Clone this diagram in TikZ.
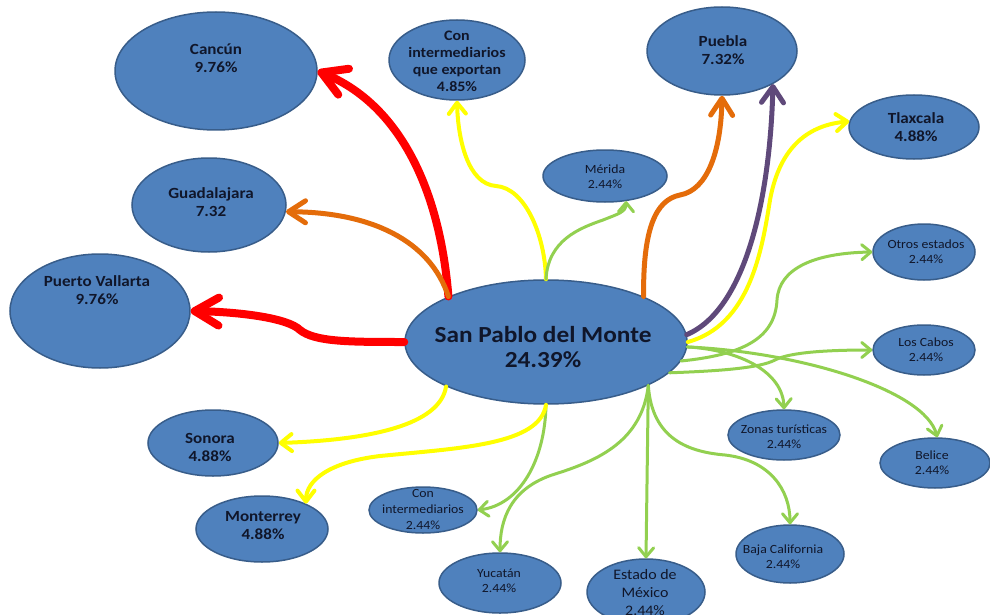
\documentclass[tikz,border=0pt]{standalone}
\usepackage{fontspec}
\setmainfont{Carlito}[FakeStretch=1.1]
\usetikzlibrary{shapes.geometric,arrows.meta}
\definecolor{nodefill}{HTML}{4F81BD}
\definecolor{nodeborder}{HTML}{385D8A}
\definecolor{txt}{HTML}{10162A}
\definecolor{redc}{HTML}{FF0000}
\definecolor{orangec}{HTML}{E46C0A}
\definecolor{purplec}{HTML}{5F497A}
\definecolor{yellowc}{HTML}{FFFF00}
\definecolor{greenc}{HTML}{92D050}
\begin{document}
\begin{tikzpicture}[x=1pt,y=-1pt,
  bub/.style={ellipse, draw=nodeborder, line width=1.5pt, fill=nodefill, inner sep=0pt},
  lbl/.style={text=txt, align=center, inner sep=0pt, font=\bfseries\fontsize{15.5}{18}\selectfont},
  sml/.style={text=txt, align=center, inner sep=0pt, font=\fontsize{12.5}{15}\selectfont},
  redarr/.style={draw=redc, line width=8pt, line cap=round, -{Straight Barb[length=24pt,width=28pt,round]}},
  orgarr/.style={draw=orangec, line width=5pt, line cap=round, -{Straight Barb[length=17pt,width=22pt,round]}},
  purarr/.style={draw=purplec, line width=5pt, line cap=round, -{Straight Barb[length=16pt,width=22pt,round]}},
  yelarr/.style={draw=yellowc, line width=4pt, line cap=round, -{Straight Barb[length=11pt,width=17pt,round]}},
  grnarr/.style={draw=greenc, line width=3pt, line cap=round, -{Straight Barb[length=9pt,width=15pt,round]}}
]
\useasboundingbox (0,0) rectangle (990,615);
\fill[white] (0,0) rectangle (990,615);

% ellipses
\node[bub, minimum width=202pt, minimum height=118pt] (cancun) at (216,71) {};
\node[bub, minimum width=154pt, minimum height=94pt] (guad) at (209,205) {};
\node[bub, minimum width=180pt, minimum height=114pt] (pv) at (100,311) {};
\node[bub, minimum width=136pt, minimum height=80pt] (cie) at (457,60) {};
\node[bub, minimum width=124pt, minimum height=52pt] (mer) at (605,176) {};
\node[bub, minimum width=150pt, minimum height=88pt] (puebla) at (722,51) {};
\node[bub, minimum width=130pt, minimum height=64pt] (tlax) at (914,127) {};
\node[bub, minimum width=102pt, minimum height=56pt] (otros) at (924,252) {};
\node[bub, minimum width=102pt, minimum height=50pt] (cabos) at (924,350) {};
\node[bub, minimum width=112pt, minimum height=50pt] (zonas) at (784,435) {};
\node[bub, minimum width=110pt, minimum height=50pt] (belice) at (935,463) {};
\node[bub, minimum width=108pt, minimum height=58pt] (baja) at (790,554) {};
\node[bub, minimum width=118pt, minimum height=66pt] (edomex) at (646,592) {};
\node[bub, minimum width=122pt, minimum height=60pt] (yuc) at (500,583) {};
\node[bub, minimum width=108pt, minimum height=46pt] (ci) at (423,510) {};
\node[bub, minimum width=130pt, minimum height=66pt] (sonora) at (213,443) {};
\node[bub, minimum width=132pt, minimum height=66pt] (mont) at (262,529) {};
\node[bub, minimum width=282pt, minimum height=124pt] (spm) at (546,342) {};

% connectors
\draw[redarr] (spm.155) .. controls (440,190) and (400,105) .. (cancun.east);
\draw[orgarr] (spm.155) .. controls (430,240) and (370,212) .. (guad.-5);
\draw[redarr] (spm.west) .. controls (350,342) and (315,342) .. (300,330) .. controls (288,318) and (240,312) .. (pv.east);
\draw[yelarr] (spm.90) .. controls (545,235) and (525,188) .. (496,186) .. controls (468,184) and (458,140) .. (cie.south);
\draw[grnarr] (spm.90) .. controls (548,240) and (580,228) .. (603,220) .. controls (618,214) and (626,212) .. (mer.-50);
\draw[orgarr] (spm.25) .. controls (643,230) and (655,200) .. (680,195) .. controls (708,190) and (721,150) .. (puebla.south);
\draw[purarr] (spm.3) .. controls (745,310) and (770,200) .. (puebla.-33);
\draw[yelarr] (spm.0) .. controls (750,325) and (762,250) .. (770,200) .. controls (780,145) and (810,125) .. (tlax.175);
\draw[grnarr] (spm.-8) .. controls (740,355) and (775,340) .. (777,300) .. controls (779,268) and (815,253) .. (otros.west);
\draw[grnarr] (spm.-14.4) .. controls (720,371) and (760,368) .. (775,360) .. controls (790,352) and (830,350) .. (cabos.west);
\draw[grnarr] (spm.-2) .. controls (740,350) and (783,372) .. (zonas.north);
\draw[grnarr] (spm.-2) .. controls (800,352) and (925,390) .. (belice.85);
\draw[grnarr] (spm.-23.5) .. controls (652,440) and (690,452) .. (725,455) .. controls (770,460) and (790,490) .. (baja.north);
\draw[grnarr] (spm.-23.5) -- (edomex.north);
\draw[grnarr] (spm.-23.5) .. controls (642,440) and (600,460) .. (555,474) .. controls (510,488) and (500,520) .. (yuc.north);
\draw[grnarr] (spm.south) .. controls (545,460) and (520,505) .. (ci.east);
\draw[yelarr] (spm.-156) .. controls (440,425) and (370,440) .. (sonora.east);
\draw[yelarr] (spm.south) .. controls (540,445) and (460,448) .. (380,456) .. controls (330,462) and (306,480) .. (mont.30);

% texts
\node[lbl] (cancunt) at (216,58) {Cancún\\9.76\%};
\node[lbl] (guadt) at (211,202) {Guadalajara\\7.32};
\node[lbl] (pvt) at (97,290) {Puerto Vallarta\\9.76\%};
\node[lbl, font=\bfseries\fontsize{14.5}{17}\selectfont] (ciet) at (457,61) {Con\\intermediarios\\que exportan\\4.85\%};
\node[sml] (mert) at (605,177) {Mérida\\2.44\%};
\node[lbl] (pueblat) at (723,50) {Puebla\\7.32\%};
\node[lbl] (tlaxt) at (916,127) {Tlaxcala\\4.88\%};
\node[sml] (otrost) at (926,252) {Otros estados\\2.44\%};
\node[sml] (cabost) at (926,350) {Los Cabos\\2.44\%};
\node[sml] (zonast) at (784,437) {Zonas turísticas\\2.44\%};
\node[sml] (belicet) at (932,463) {Belice\\2.44\%};
\node[sml] (bajat) at (783,557) {Baja California\\2.44\%};
\node[sml, font=\fontsize{14.5}{18}\selectfont] (edomext) at (645,593) {Estado de\\México\\2.44\%};
\node[sml] (yuct) at (499,581) {Yucatán\\2.44\%};
\node[sml, font=\fontsize{12.5}{16}\selectfont] (cit) at (423,509) {Con\\intermediarios\\2.44\%};
\node[lbl] (sonorat) at (210,447) {Sonora\\4.88\%};
\node[lbl] (montt) at (263,526) {Monterrey\\4.88\%};
\node[lbl, font=\bfseries\fontsize{23}{25}\selectfont] (spmt) at (543,347) {San Pablo del Monte\\24.39\%};
\end{tikzpicture}
\end{document}
